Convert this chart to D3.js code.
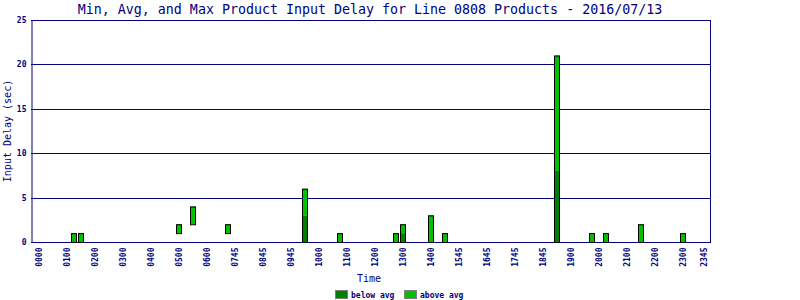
<!DOCTYPE html>
<meta charset="utf-8">
<html>
    <head>
        <style type="text/css">
            body { margin:0; background:#fff; }
            svg { display:block; }
            .graphText { font-family: "DejaVu Sans Mono", monospace; fill: #000080; }
        </style>
        <script src="https://d3js.org/d3.v7.min.js"></script>
    </head>
    <body>
        <svg width="800" height="300"></svg>
        <script type="text/javascript">
            // 96 fifteen-minute slots, only some have products
            var barSlots = [5, 6, 20, 22, 27, 38, 43, 51, 52, 56, 58, 74, 79, 81, 86, 92];
            var minVals  = [0, 0, 1, 2, 1, 0, 0, 0, 0, 0, 0, 0, 0, 0, 0, 0];
            var avgVals  = [0, 0, 1, 2, 1, 3, 0, 0, 1, 0, 0, 8, 0, 0, 0, 0];
            var maxVals  = [1, 1, 2, 4, 2, 6, 1, 1, 2, 3, 1, 21, 1, 1, 2, 1];

            var tickSlots  = [0, 4, 8, 12, 16, 20, 24, 28, 32, 36, 40, 44, 48, 52, 56, 60, 64, 68, 72, 76, 80, 84, 88, 92, 95];
            var tickLabels = ["0000", "0100", "0200", "0300", "0400", "0500", "0600", "0745", "0845", "0945",
                              "1000", "1100", "1200", "1300", "1400", "1545", "1645", "1745", "1845", "1900",
                              "2000", "2100", "2200", "2300", "2345"];
            var yTicks = [0, 5, 10, 15, 20, 25];

            var navy = "#000080";
            // note: "top" is taken by window.top, so plot edges get their own names
            var plotLeft = 31, plotRight = 710, plotTop = 20, plotBottom = 242;

            var xScale = d3.scaleBand()
                .domain(d3.range(96))
                .range([35.5, 707.5]);

            var yScale = d3.scaleLinear()
                .domain([0, 25])
                .range([plotBottom, plotTop]);

            var svg = d3.select("svg");

            // grid lines
            svg.selectAll("line.grid")
                .data(yTicks)
                .enter().append("line")
                .attr("x1", plotLeft)
                .attr("x2", plotRight + 1)
                .attr("y1", d => Math.round(yScale(d)) + 0.5)
                .attr("y2", d => Math.round(yScale(d)) + 0.5)
                .attr("stroke", navy);

            svg.append("line")
                .attr("x1", plotRight + 0.5).attr("x2", plotRight + 0.5)
                .attr("y1", plotTop).attr("y2", plotBottom + 1)
                .attr("stroke", navy);

            // bars: below avg (min..avg) and above avg (avg..max)
            var rows = barSlots.map((s, i) => ({slot: s, min: minVals[i], avg: avgVals[i], max: maxVals[i]}));
            var bw = 5;
            var bx = d => xScale(d.slot) + (xScale.bandwidth() - bw) / 2;

            svg.selectAll("rect.below")
                .data(rows.filter(d => d.avg > d.min))
                .enter().append("rect")
                .attr("x", bx)
                .attr("y", d => yScale(d.avg))
                .attr("width", bw)
                .attr("height", d => yScale(d.min) - yScale(d.avg))
                .attr("fill", "#008000");

            svg.selectAll("rect.above")
                .data(rows.filter(d => d.max > d.avg))
                .enter().append("rect")
                .attr("x", bx)
                .attr("y", d => yScale(d.max))
                .attr("width", bw)
                .attr("height", d => yScale(d.avg) - yScale(d.max))
                .attr("fill", "#00c000");

            svg.selectAll("rect.outline")
                .data(rows)
                .enter().append("rect")
                .attr("x", bx)
                .attr("y", d => yScale(d.max) + 0.5)
                .attr("width", bw)
                .attr("height", d => yScale(d.min) - yScale(d.max))
                .attr("fill", "none")
                .attr("stroke", "black");

            // axes
            var yAxis = d3.axisLeft(yScale)
                .tickValues(yTicks)
                .tickSize(0)
                .tickPadding(5);

            var gy = svg.append("g")
                .attr("class", "graphText")
                .attr("transform", "translate(" + [plotLeft + 0.5, 0] + ")")
                .call(yAxis);
            gy.select(".domain").attr("stroke", navy);
            gy.selectAll("text")
                .attr("fill", navy)
                .style("font-family", "DejaVu Sans Mono")
                .style("font-weight", "bold")
                .style("font-size", "8px");

            var xAxis = d3.axisBottom(xScale)
                .tickValues(tickSlots)
                .tickFormat((d, i) => tickLabels[i])
                .tickSize(0);

            var gx = svg.append("g")
                .attr("class", "graphText")
                .attr("transform", "translate(" + [0, plotBottom + 0.5] + ")")
                .call(xAxis);
            gx.select(".domain").remove();
            gx.selectAll("text")
                .attr("fill", navy)
                .style("font-family", "DejaVu Sans Mono")
                .style("font-weight", "bold")
                .style("font-size", "8px")
                .attr("transform", "rotate(-90)")
                .attr("x", -5)
                .attr("y", 0)
                .attr("dy", "0.35em")
                .style("text-anchor", "end");

            // titles
            svg.append("text")
                .attr("class", "graphText")
                .attr("x", 370)
                .attr("y", 14)
                .style("font-size", "13.3px")
                .style("text-anchor", "middle")
                .text("Min, Avg, and Max Product Input Delay for Line 0808 Products - 2016/07/13");

            svg.append("text")
                .attr("class", "graphText")
                .attr("transform", "translate(11,131) rotate(-90)")
                .style("font-size", "10px")
                .style("text-anchor", "middle")
                .text("Input Delay (sec)");

            svg.append("text")
                .attr("class", "graphText")
                .attr("x", 369)
                .attr("y", 282)
                .style("font-size", "10px")
                .style("text-anchor", "middle")
                .text("Time");

            // legend
            var legend = [["below avg", "#008000", 335.5], ["above avg", "#00c000", 404.5]];
            legend.forEach(l => {
                svg.append("rect")
                    .attr("x", l[2]).attr("y", 290.5)
                    .attr("width", 12).attr("height", 8)
                    .attr("fill", l[1])
                    .attr("stroke", "#808080");
                svg.append("text")
                    .attr("class", "graphText")
                    .attr("x", l[2] + 15.5)
                    .attr("y", 298)
                    .style("font-size", "8px")
                    .style("font-weight", "bold")
                    .text(l[0]);
            });
        </script>
    </body>
</html>
